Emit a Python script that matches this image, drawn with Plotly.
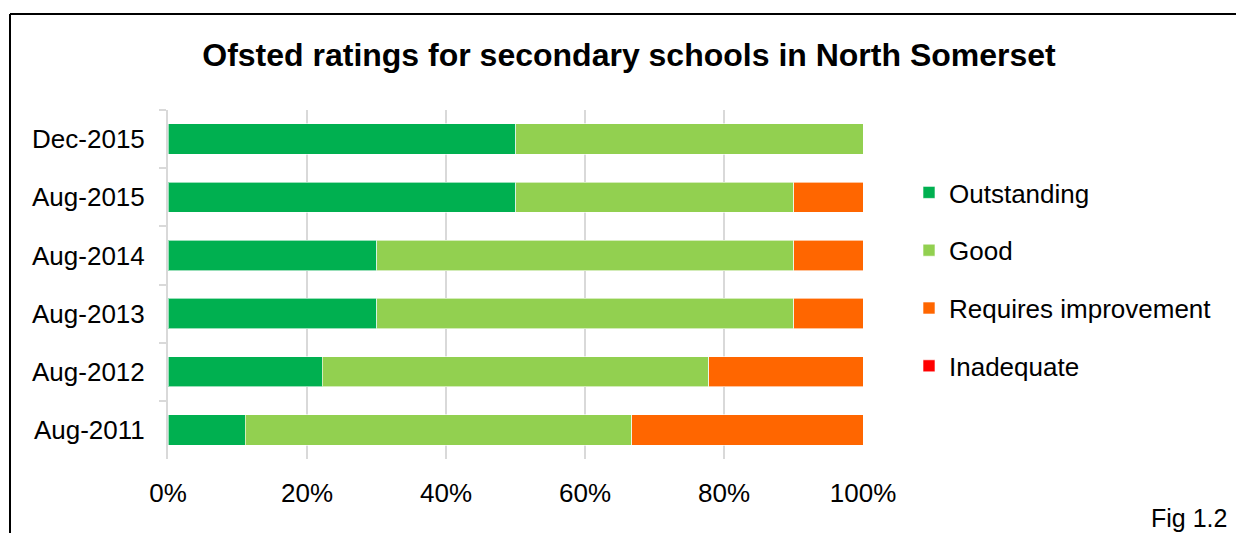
import plotly.graph_objects as go

categories = ["Dec-2015", "Aug-2015", "Aug-2014", "Aug-2013", "Aug-2012", "Aug-2011"]
outstanding = [50.0, 50.0, 30.0, 30.0, 22.2, 11.1]
good = [50.0, 40.0, 60.0, 60.0, 55.6, 55.6]
requires_improvement = [0.0, 10.0, 10.0, 10.0, 22.2, 33.3]
inadequate = [0.0, 0.0, 0.0, 0.0, 0.0, 0.0]
x_ticks = [0, 20, 40, 60, 80, 100]
x_tick_labels = ["0%", "20%", "40%", "60%", "80%", "100%"]

series = [
    ("Outstanding", outstanding, "#00B050"),
    ("Good", good, "#92D050"),
    ("Requires improvement", requires_improvement, "#FF6600"),
    ("Inadequate", inadequate, "#FF0000"),
]

FONT = "Liberation Sans, Arial, sans-serif"
W, H = 1236, 533
L, R = 168, 863
T, B = 110, 459

fig = go.Figure()
for name, vals, color in series:
    fig.add_trace(go.Bar(
        y=categories, x=vals, name=name, orientation="h",
        marker=dict(color=color, line=dict(color="rgba(255,255,255,0.6)", width=1)),
        legendgroup=name,
    ))

def px_to_paper_x(px):
    return (px - L) / (R - L)

def px_to_paper_y(py):
    return (B - py) / (B - T)

fig.update_layout(
    width=W, height=H,
    margin=dict(l=L, r=W - R, t=T, b=H - B, pad=0),
    paper_bgcolor="white", plot_bgcolor="white",
    barmode="stack", bargap=0.476,
    font=dict(family=FONT, size=26, color="black"),
    title=dict(
        text="<b>Ofsted ratings for secondary schools in North Somerset</b>",
        x=629 / W, xanchor="center", xref="container",
        y=1 - 55 / H, yanchor="middle", yref="container",
        font=dict(family=FONT, size=32, color="black"),
    ),
    xaxis=dict(
        range=[0, 100], tickvals=x_ticks, ticktext=x_tick_labels,
        showgrid=True, gridcolor="#d9d9d9", gridwidth=2,
        zeroline=False, showline=False, ticks="",
        ticklabelstandoff=16,
        tickfont=dict(size=26),
    ),
    yaxis=dict(
        autorange="reversed", showline=True, linecolor="#d9d9d9", linewidth=2,
        ticks="outside", tickson="boundaries", ticklen=7, tickcolor="#d9d9d9", tickwidth=2,
        ticklabelstandoff=16,
        showgrid=False, zeroline=False,
        tickfont=dict(size=26),
    ),
    legend=dict(
        x=px_to_paper_x(909), xanchor="left",
        y=px_to_paper_y(169), yanchor="top",
        traceorder="grouped", tracegroupgap=21,
        font=dict(size=26), bgcolor="rgba(0,0,0,0)",
    ),
    showlegend=True,
)

# chart frame: top and left edges (right and bottom fall outside the picture)
fig.add_shape(
    type="line", xref="paper", yref="paper",
    x0=px_to_paper_x(10), x1=px_to_paper_x(1240),
    y0=px_to_paper_y(14), y1=px_to_paper_y(14),
    line=dict(color="black", width=2), layer="below",
)
fig.add_shape(
    type="line", xref="paper", yref="paper",
    x0=px_to_paper_x(10), x1=px_to_paper_x(10),
    y0=px_to_paper_y(14), y1=px_to_paper_y(540),
    line=dict(color="black", width=2), layer="below",
)

fig.add_annotation(
    text="Fig 1.2", xref="paper", yref="paper",
    x=px_to_paper_x(1229), xanchor="right",
    y=px_to_paper_y(518), yanchor="middle",
    showarrow=False, font=dict(family=FONT, size=25, color="black"),
)

fig.write_html("out.html")
